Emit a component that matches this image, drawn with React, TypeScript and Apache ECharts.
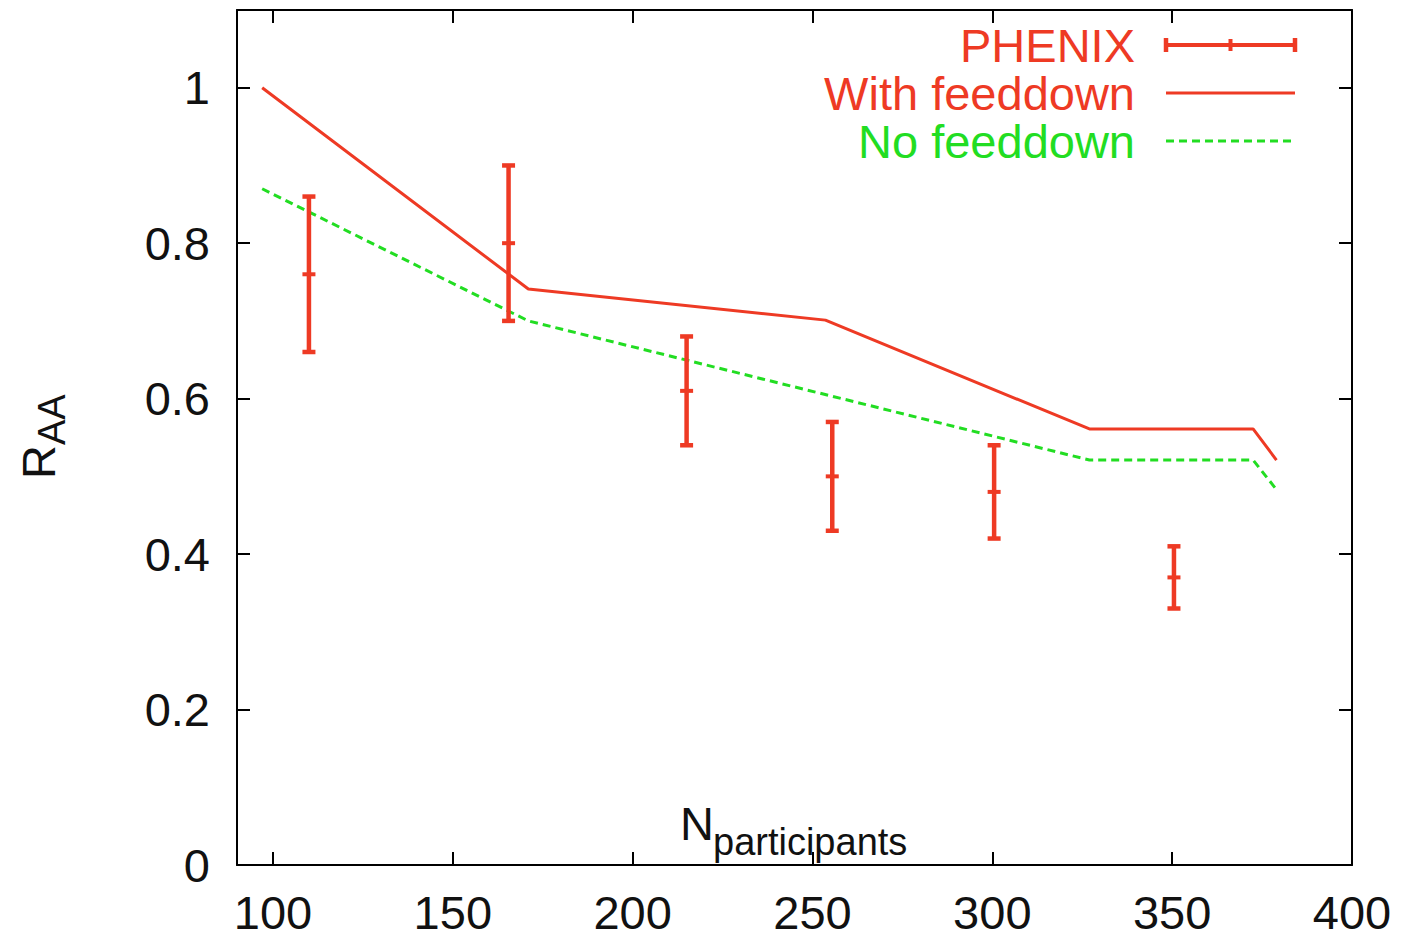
import React, { useEffect, useRef } from "react";
import * as echarts from "echarts";

// ---- data ----
const xTicks = [100, 150, 200, 250, 300, 350, 400];
const yTicks = [0, 0.2, 0.4, 0.6, 0.8, 1];

const seriesNames = ["PHENIX", "With feeddown", "No feeddown"];

const phenixNpart = [110, 165.5, 215, 255.5, 300.5, 350.5];
const phenixRaa = [0.76, 0.8, 0.61, 0.5, 0.48, 0.37];
const phenixLow = [0.66, 0.7, 0.54, 0.43, 0.42, 0.33];
const phenixHigh = [0.86, 0.9, 0.68, 0.57, 0.54, 0.41];

const withNpart = [97, 171, 253.6, 327, 372.5, 379];
const withRaa = [1.0, 0.741, 0.701, 0.561, 0.561, 0.521];

const noNpart = [97, 171, 327, 372.5, 379];
const noRaa = [0.87, 0.7, 0.521, 0.521, 0.483];

// ---- styles ----
const RED = "#ee3a24";
const GREEN = "#22dd22";
const FONT = "'Liberation Sans', Arial, Helvetica, sans-serif";
const FS = 47;
const SUB = 38;

export default function App() {
  const ref = useRef<HTMLDivElement>(null);

  useEffect(() => {
    if (!ref.current) return;
    const chart = echarts.init(ref.current, undefined, { renderer: "svg" });

    const phenixData = phenixNpart.map((x, i) => [x, phenixRaa[i], phenixLow[i], phenixHigh[i]]);
    const withData = withNpart.map((x, i) => [x, withRaa[i]]);
    const noData = noNpart.map((x, i) => [x, noRaa[i]]);

    const axisLine = { show: true, onZero: false, lineStyle: { color: "#000", width: 2 } };
    const tickStyle = { color: "#000", width: 2 };
    const labelStyle = { color: "#111", fontSize: FS, fontFamily: FONT };

    const legendRows = [45, 93, 141];
    const legendTextRight = 1135;
    const sx1 = 1166;
    const sx2 = 1295;

    const graphic: any[] = [
      ...seriesNames.map((n, i) => ({
        type: "text",
        x: legendTextRight,
        y: legendRows[i],
        style: {
          text: n,
          fill: i === 2 ? GREEN : RED,
          font: `${FS}px ${FONT}`,
          textAlign: "right",
          textVerticalAlign: "middle",
        },
      })),
      { type: "line", shape: { x1: sx1, y1: legendRows[0], x2: sx2, y2: legendRows[0] }, style: { stroke: RED, lineWidth: 4 } },
      { type: "line", shape: { x1: sx1, y1: legendRows[0] - 7, x2: sx1, y2: legendRows[0] + 7 }, style: { stroke: RED, lineWidth: 4.5 } },
      { type: "line", shape: { x1: sx2, y1: legendRows[0] - 7, x2: sx2, y2: legendRows[0] + 7 }, style: { stroke: RED, lineWidth: 4.5 } },
      { type: "line", shape: { x1: (sx1 + sx2) / 2, y1: legendRows[0] - 6, x2: (sx1 + sx2) / 2, y2: legendRows[0] + 6 }, style: { stroke: RED, lineWidth: 4 } },
      { type: "line", shape: { x1: sx1, y1: legendRows[1], x2: sx2, y2: legendRows[1] }, style: { stroke: RED, lineWidth: 3 } },
      { type: "line", shape: { x1: sx1, y1: legendRows[2], x2: sx2, y2: legendRows[2] }, style: { stroke: GREEN, lineWidth: 3, lineDash: [8, 5] } },
      {
        type: "text",
        x: 38.5,
        y: 479,
        rotation: Math.PI / 2,
        style: { text: "R", fill: "#111", font: `${FS}px ${FONT}`, textAlign: "left", textVerticalAlign: "middle" },
      },
      {
        type: "text",
        x: 52,
        y: 445,
        rotation: Math.PI / 2,
        style: { text: "AA", fill: "#111", font: `${SUB}px ${FONT}`, textAlign: "left", textVerticalAlign: "middle" },
      },
      {
        type: "text",
        x: 680,
        y: 823,
        style: { text: "N", fill: "#111", font: `${FS}px ${FONT}`, textAlign: "left", textVerticalAlign: "middle" },
      },
      {
        type: "text",
        x: 713,
        y: 842,
        style: { text: "participants", fill: "#111", font: `${SUB}px ${FONT}`, textAlign: "left", textVerticalAlign: "middle" },
      },
    ];

    chart.setOption({
      animation: false,
      backgroundColor: "#fff",
      grid: { left: 237, right: 50, top: 10, bottom: 73, containLabel: false },
      xAxis: [
        {
          type: "value",
          min: 90,
          max: 400,
          position: "bottom",
          axisLine,
          axisTick: { show: true, inside: true, length: 13, lineStyle: tickStyle, customValues: xTicks },
          axisLabel: { ...labelStyle, margin: 24, customValues: xTicks },
          splitLine: { show: false },
        },
        {
          type: "value",
          min: 90,
          max: 400,
          position: "top",
          axisLine,
          axisTick: { show: true, inside: true, length: 13, lineStyle: tickStyle, customValues: xTicks },
          axisLabel: { show: false },
          splitLine: { show: false },
        },
      ],
      yAxis: [
        {
          type: "value",
          min: 0,
          max: 1.1,
          position: "left",
          axisLine,
          axisTick: { show: true, inside: true, length: 13, lineStyle: tickStyle, customValues: yTicks },
          axisLabel: { ...labelStyle, margin: 27, customValues: yTicks },
          splitLine: { show: false },
        },
        {
          type: "value",
          min: 0,
          max: 1.1,
          position: "right",
          axisLine,
          axisTick: { show: true, inside: true, length: 13, lineStyle: tickStyle, customValues: yTicks },
          axisLabel: { show: false },
          splitLine: { show: false },
        },
      ],
      series: [
        {
          name: seriesNames[1],
          type: "line",
          data: withData,
          showSymbol: false,
          lineStyle: { color: RED, width: 3 },
          z: 2,
        },
        {
          name: seriesNames[2],
          type: "line",
          data: noData,
          showSymbol: false,
          lineStyle: { color: GREEN, width: 3, type: [8, 5] },
          z: 2,
        },
        {
          name: seriesNames[0],
          type: "custom",
          data: phenixData,
          encode: { x: 0, y: [1, 2, 3] },
          z: 3,
          renderItem: (params: any, api: any) => {
            const x = api.value(0);
            const pc = api.coord([x, api.value(1)]);
            const pl = api.coord([x, api.value(2)]);
            const ph = api.coord([x, api.value(3)]);
            const hw = 6.5;
            const st = { stroke: RED, lineWidth: 4.5 };
            return {
              type: "group",
              children: [
                { type: "line", shape: { x1: pl[0], y1: pl[1], x2: ph[0], y2: ph[1] }, style: st },
                { type: "line", shape: { x1: pl[0] - hw, y1: pl[1], x2: pl[0] + hw, y2: pl[1] }, style: st },
                { type: "line", shape: { x1: ph[0] - hw, y1: ph[1], x2: ph[0] + hw, y2: ph[1] }, style: st },
                { type: "line", shape: { x1: pc[0] - hw, y1: pc[1], x2: pc[0] + hw, y2: pc[1] }, style: { stroke: RED, lineWidth: 4 } },
              ],
            };
          },
        },
      ],
      graphic,
    });

    return () => {
      chart.dispose();
    };
  }, []);

  return (
    <div
      ref={ref}
      style={{ position: "absolute", left: 0, top: 0, width: 1402, height: 938, background: "#fff" }}
    />
  );
}
